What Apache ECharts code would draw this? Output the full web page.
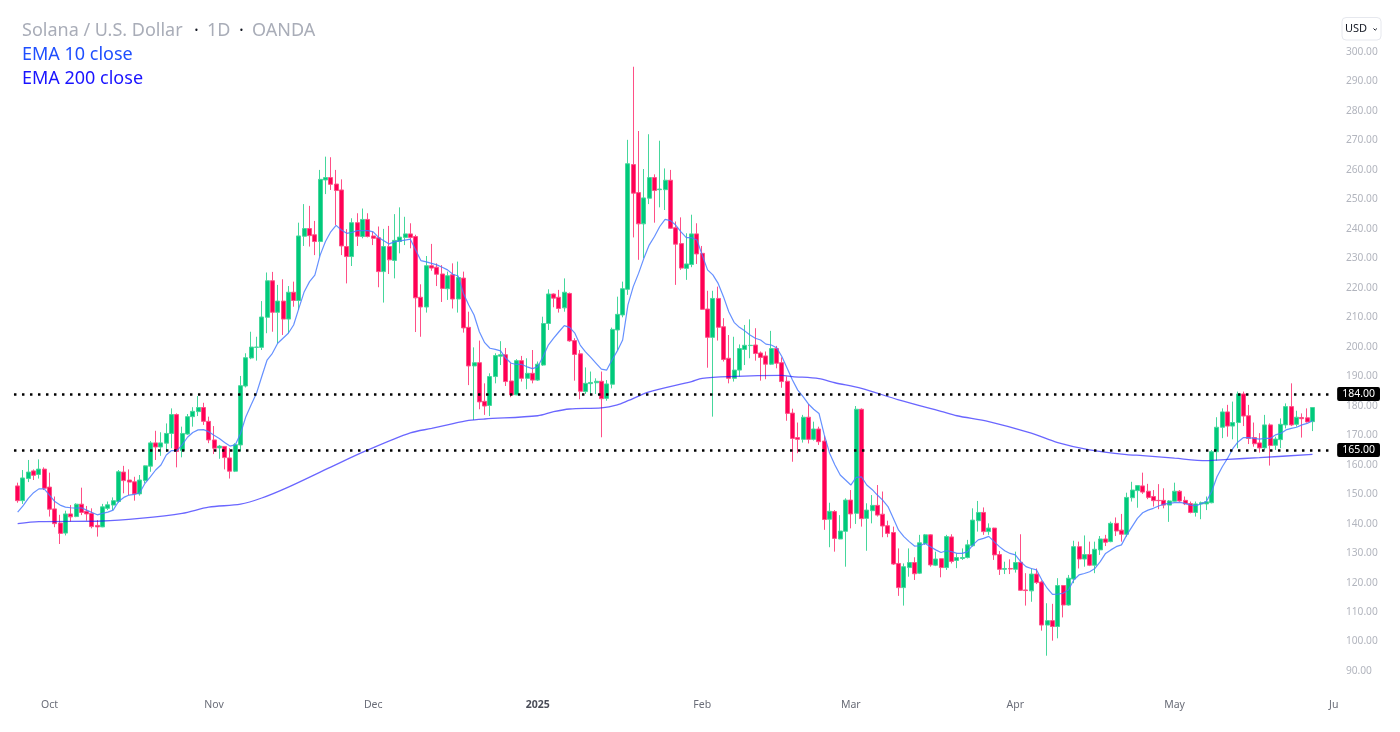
<!DOCTYPE html>
<html>
<head>
<meta charset="utf-8">
<title>SOLUSD</title>
<style>
  html, body { margin: 0; padding: 0; background: #fff; }
  #main { width: 1400px; height: 732px; }
</style>
</head>
<body>
<div id="main"></div>
<script src="https://cdn.jsdelivr.net/npm/echarts@6/dist/echarts.min.js"></script>
<script>
// daily candles, 25 Sep 2024 .. 27 May 2025
var opens = [
  152.8,147.8,155.3,157.9,156.7,158.5,152.4,145,140.2,136.8,
  143.3,142.4,146.6,144.2,143.5,139.4,138.9,145.2,146.3,147.5,
  157.5,154.8,154.2,150.1,154.6,159.5,167.4,166,167.3,170.6,
  177,164.8,170.4,176.3,178,179.4,174.7,168.4,165.7,166.2,
  162.3,157.8,166.7,186.7,196.2,199.8,199.8,210,222.4,211.7,
  215.5,209.4,218.5,215.7,237.5,240.1,238,235.7,256.6,257.4,
  255.2,253.2,234,230.6,242.1,237.4,243.2,237.6,237,225.5,
  234,229.3,235.7,237.1,238.3,237.4,216.8,213.5,227.5,227,
  224.7,219.7,224.4,216.2,223.3,206.6,193.5,194.6,181.5,180.1,
  189.9,196.8,197.3,188.4,183.7,195.3,189.3,191,188.7,193.8,
  207.9,217.9,216.8,213.2,218.1,202.1,197.6,184.8,187.5,187.8,
  188.3,182.5,187.3,205.7,210.8,219.5,261.8,252.3,241.7,250.4,
  257.4,253.3,253.3,256.5,240.4,235,226.6,227.9,238.3,231.7,
  212.8,203.2,216.4,206.8,196.1,189.3,192.1,199.1,200.4,200.6,
  197.9,196.9,194.1,199.4,194.6,188.3,177.5,169.2,168.6,176.1,
  168.6,172.1,168,141.5,144.1,134.8,137.4,148,143.5,178.8,
  141.8,144.4,146.2,143.2,139.3,137,126.5,118.3,125.1,126.8,
  123.2,133.3,136.2,125.9,128.1,125.1,135.5,127.5,128.2,128.5,
  132.5,141,143.8,137.3,138.5,129.5,124.5,124.8,124.5,126.9,
  117.5,117.2,122.9,120.2,105.6,107.1,105.1,119,112.4,121.2,
  132.2,128,129.5,125.9,131.1,134.8,133.9,140.1,137.8,136.4,
  148.8,151.2,152.8,151,149.2,147.9,147.9,146.3,147.6,151,
  147.9,146.8,143.8,146.7,146.7,147.1,164.4,172.7,177.9,173.1,
  174.3,184,176.6,169.2,167.4,165.7,173.5,166.6,168.5,173.5,
  179.7,173.7,176,175.9,174.6
];
var closes = [
  147.8,155.5,157.5,156.4,158.5,152,144.9,140,136.7,143.3,
  142.3,146.6,143.8,143.3,139,138.9,145.7,146.4,147.8,157.6,
  154.6,154.1,150.1,154.8,159.6,167.4,166,167.4,170.6,177,
  164.5,170.6,176.3,178.1,179.4,174.7,168.4,165.6,166.3,162.4,
  157.8,166.8,186.8,196.3,199.9,199.9,210.1,222.4,211.7,215.5,
  209.4,218.5,215.7,237.6,240.1,237.7,235.7,256.8,257.4,255.1,
  253,234.2,230.6,242.1,237.5,243.2,237.4,236.8,225.5,234,
  229.5,236.1,237.2,238.3,237.1,216.6,213.5,227.5,226.7,224.6,
  219.8,224.1,216.2,223.5,206.4,193.5,194.6,181.3,179.9,189.9,
  197,197.3,188.2,183.7,195.3,189.3,191,188.7,194.1,207.9,
  217.9,216.5,213,218.5,202,197.4,184.9,187.6,187.9,188.3,
  182.4,187.4,205.9,211,219.7,262.1,252.1,241.7,250.5,257.4,
  253,253.5,256.5,240.2,234.8,226.7,228.1,238.3,231.5,212.7,
  203.2,216.4,206.6,195.7,189.3,192.1,199.4,200.5,200.5,197.7,
  196.4,194.1,199.4,194.4,188.2,177.4,168.9,168.6,176.1,168.6,
  172.1,167.8,141.4,144.2,135,137.5,148,143.3,178.8,141.7,
  144.6,146.2,142.9,139.2,136.7,126.3,118.3,125.4,126.8,123,
  133.5,136.2,126,128,125.1,135.6,127.2,128.5,128.5,132.8,
  141.2,143.8,137.3,138.5,129.4,124.5,124.8,124.6,126.8,117.4,
  117.3,122.9,120,105.6,107.1,105.1,119,112.4,121.5,132.2,
  128,129.5,125.9,131.3,134.8,133.7,140.1,137.5,136.4,148.9,
  151.4,152.9,150.7,148.9,147.8,147.8,146.3,147.7,151,147.7,
  146.7,143.8,146.7,147.1,147.4,164.4,172.7,177.9,173.1,174.3,
  184,176.5,168.9,167.1,165.7,173.5,166.5,168.7,173.7,179.7,
  173.5,176.1,175.6,174.5,179.4
];
var lows = [
  147.1,146.7,154.1,154.8,155.3,151.4,142.4,138.8,133.1,136,
  140.7,142.2,142.9,141,138.4,135.6,138.8,144.6,144.6,147.1,
  150.3,149.7,147.8,149.5,153.7,157.6,161.6,163,164.4,165.6,
  159.1,162.5,170.1,172.9,176.5,173.5,167.3,163.6,162,158.4,
  155.3,157.5,164.5,186.2,195.8,195.3,198.9,204.6,205.1,201.2,
  204,204.6,213.6,212.5,234.2,234,231.1,230.6,251.8,253.2,
  241.3,231.1,221.5,227.4,234.2,236.8,237.1,234.5,220.2,215,
  224.7,223.2,231.7,234.5,233.4,205,203.4,211.6,225.8,220.6,
  215.2,215.9,213,211.6,204.8,187,175.2,178.8,176.9,176.5,
  187.6,193.8,186.7,182.9,183.6,188.2,185.6,187.6,188.4,193.5,
  205.7,213.4,211.6,211.9,201.7,188.5,182.2,184,184,184,
  169.3,181.7,185.9,198.9,210,217.6,237.1,229.5,230,248.4,
  242.1,247.3,246.4,240,221,226.1,222.7,227,228.1,212.5,
  192.9,176.3,202.1,195,187.6,188.2,189.9,193.8,196.1,195.3,
  188.5,189,193.8,192.7,186.1,174.9,161,163.9,167.5,167.2,
  168.2,166.7,137.9,132,130.5,134.7,125.4,138.4,139.9,139,
  130.8,140.1,142.4,135.4,135.4,126,115.5,112.2,122,120.9,
  122.9,132.8,125.4,125.6,121.8,124.3,126.5,124.9,127.7,128.2,
  132.2,137.3,136.2,136.2,127.7,122.6,122.9,122.9,123.4,117.2,
  112.2,113.5,119.5,103.7,95.2,100.3,101.1,108.2,112.2,119.8,
  124.8,125.4,125.6,123.2,129.4,132.4,133.7,135.8,133.9,135.6,
  147.5,145.4,150.1,148.3,145.8,144.9,145.2,140.6,147.5,147.4,
  146.3,143.5,142.4,141.5,144.6,146.9,161.4,169,169.5,168.6,
  165.6,173.1,167,166.1,164.1,165,159.7,165,165.6,172.3,
  173.1,172.9,169.2,174.3,171.4
];
var highs = [
  153.9,158.2,161.6,158.4,161.8,159.1,157.3,149.2,143,144.4,
  146.3,146.9,152.2,146,145.2,141.2,146.7,147.5,148.9,158.2,
  159.6,158.4,155.9,156.5,159.7,168,171.5,171,174,179.1,
  177.4,172.9,177.2,179.5,183.3,181,176.3,173.1,166.7,166.3,
  165.6,167.3,190.1,197.8,205.1,203.4,215.5,225.2,225.4,221,
  222.9,220.6,222.1,242.1,248.4,247.8,242.7,260,264.5,264.3,
  260,256.8,239.9,243.6,245.3,246.9,245.3,239.1,240.8,240,
  241,245,247.3,244.1,241.9,238,221.2,230.8,234.9,228.3,
  227.7,225.5,228.3,228.9,225.5,211.9,199.8,202.1,187.6,191,
  197.8,201.9,199.6,194.4,195.8,196.9,196.1,198.9,195,210.2,
  219.5,218.1,219.3,223.2,218.4,202.9,198.9,193,191.6,189.3,
  191.6,188.7,206.5,217,222.1,270.2,295,273.2,260.3,272.1,
  258.5,269.9,260.5,260,242.5,243.9,238.5,244.8,241.9,234.2,
  219,219,220.4,209.7,204,203.4,200.8,207.4,209.3,206.3,
  198.4,198.4,205.4,200.3,196.4,189.9,179,174.3,176.9,180.6,
  174.6,172.9,169.7,147.1,144.6,142.9,148.6,151.4,179.9,179.1,
  146.9,149.7,153.1,150.9,141,139,131.6,126.5,131.6,128.6,
  136.2,136.5,136.4,130.5,128.1,136.2,136.4,129.9,131.6,134.5,
  145.2,147.7,145.5,140.1,138.6,130.7,127.1,127.9,130.5,136.4,
  123.2,124.8,124.8,120.7,113,112.8,121.5,119.2,122.6,134.2,
  133.9,136,133.9,133.9,135.8,136.2,140.7,142.1,143.3,150.5,
  154.2,152.9,157.3,153.5,151.4,153.4,152,148,153.9,151.4,
  149.2,147.5,147.5,147.5,149.2,165,176.1,179.1,180.3,181.4,
  184.8,184.8,180.3,174.3,170.7,176.9,174,169.5,175.7,180.8,
  187.6,178.3,177.4,179.1,179.5
];
var ema10 = [
  143.9,146,148.6,150.5,151.8,151.8,149.7,147.5,146.3,145.6,
  145.4,145.3,145.4,144.6,143.8,143,143.5,143.9,144.6,147.5,
  148.9,149.7,149.9,150.5,153.7,155.9,158.2,159.9,163.3,164.8,
  164.8,166.7,169.3,170.9,171.8,171.9,171.2,170,168.9,167.5,
  166.3,166.7,170.6,176.3,180.3,184.2,189.9,195.5,197.8,201.2,
  202.9,204.6,207.4,213.1,218.7,222.1,224.3,231.1,235.7,239,
  241.2,239.6,238.5,238.8,239.4,239.4,239.4,239,237.1,236,
  234.9,235.6,235.9,236.2,236.5,232.8,229.2,228.8,228.3,227.8,
  227,226.1,224.6,224,218.1,214.2,210.8,205.1,201.4,199.5,
  199.1,198.6,196.1,194.4,194,194,193.2,192.6,193.2,196.6,
  200.6,202.9,205.1,207.2,206.6,204.6,200.6,198.3,196.4,194.4,
  192.4,192.1,195.5,198.6,202.3,214.2,220.4,224.9,230,234.5,
  237.4,240.8,243.2,242.8,241.3,239,237,237,236.2,231.1,
  226.1,224.4,221.5,217,211.9,208.3,206.6,205.4,204,202.9,
  202.3,200.9,200.6,199.7,196.7,192.7,188.7,185.3,183.1,180.6,
  178.8,177.4,170.1,163.9,159.9,156.5,154.8,153.1,155.7,155.9,
  153.1,151.6,149.7,148,145.8,141.8,137.8,135.6,133.9,132.4,
  132.5,133.3,132.2,131.1,130.2,130.8,130.5,129.9,129.9,130.5,
  132.8,134.5,135,135.7,133.9,132.2,130.8,129.9,129.4,127.1,
  125.4,124.8,124.3,120.9,118.1,116,116.1,116.4,117.5,120.9,
  122.6,123.1,123.7,124.8,127.1,129.9,131.1,132.2,132.8,136.2,
  139,141.8,143.7,144.6,145.2,146,146.6,146.9,147.1,147.2,
  146.9,146.3,146.1,146.7,147.5,150.9,155.9,159.3,162.2,165.5,
  167.8,169.2,169.2,168.9,168.7,168.9,168.9,170.1,170.6,171.8,
  172.3,172.7,173.5,174,174.9
];
// the slow average was read at the candles where its slope changes
var ema200Candles = [0,4,16,23,31,36,42,46,51,59,66,74,78,81,85,88,98,101,104,110,113,115,119,127,129,134,144,146,151,154,159,166,174,177,183,191,196,202,209,212,218,224,228,234,244];
var ema200Values = [140,140.7,140.9,141.8,143.5,145.6,146.6,148.7,152.4,159.2,165,170.8,172.3,173.5,175,175.5,176.6,178,178.9,179.3,180.3,181.7,184.7,188.2,189.3,189.9,190.3,189.9,189.2,187.8,185.9,182,178.1,176.6,174.6,170.7,167.5,165,163.4,163.1,162.2,161.4,161.8,162.4,163.5];
var levels = [184, 165];
var xTickDays = [8, 39, 69, 100, 131, 159, 190, 220, 250];
var xTickLabels = ['Oct', 'Nov', 'Dec', '2025', 'Feb', 'Mar', 'Apr', 'May', 'Ju'];

var firstDay = new Date(Date.UTC(2024, 8, 23));
var dayCount = 251;
var firstCandle = 2;   // two empty days in front of the first candle

var days = [];
for (var i = 0; i < dayCount; i++) {
  days.push(new Date(firstDay.getTime() + i * 86400000).toISOString().slice(0, 10));
}

var candleData = [];
var ema10Data = [];
for (var i = 0; i < opens.length; i++) {
  candleData.push([i + firstCandle, opens[i], closes[i], lows[i], highs[i]]);
  ema10Data.push([i + firstCandle, ema10[i]]);
}
var ema200Data = ema200Candles.map(function (c, i) {
  return [c + firstCandle, ema200Values[i]];
});

var textFont = '"Noto Sans", sans-serif';

function legendText(text, left, top, color) {
  return {
    text: text,
    left: left,
    top: top,
    textStyle: { color: color, fontFamily: textFont, fontSize: 18, fontWeight: 'normal' }
  };
}

var chart = echarts.init(document.getElementById('main'), null, { renderer: 'canvas' });
chart.setOption({
  animation: false,
  backgroundColor: '#ffffff',
  title: [
    legendText('Solana / U.S. Dollar', 17, 17, '#a9adb8'),
    legendText('\u00b7', 189, 17, '#131722'),
    legendText('1D', 202, 17, '#a9adb8'),
    legendText('\u00b7', 234, 17, '#131722'),
    legendText('OANDA', 247, 17, '#a9adb8'),
    legendText('EMA 10 close', 17, 41, '#1f4fff'),
    legendText('EMA 200 close', 17, 65, '#1a14ff')
  ],
  grid: { left: 4.4, right: 63.6, top: 22.52, height: 678, containLabel: false },
  xAxis: {
    type: 'category',
    data: days,
    boundaryGap: true,
    axisLine: { show: false },
    axisTick: { show: false },
    splitLine: { show: false },
    axisLabel: {
      interval: function (index) { return xTickDays.indexOf(index) >= 0; },
      margin: -1,
      hideOverlap: false,
      formatter: function (value, index) {
        var label = xTickLabels[xTickDays.indexOf(index)];
        return label === '2025' ? '{year|' + label + '}' : label;
      },
      color: '#6a6d78',
      fontFamily: textFont,
      fontSize: 10.5,
      rich: { year: { fontFamily: textFont, fontSize: 10.5, fontWeight: 'bold', color: '#4a4d58' } }
    }
  },
  yAxis: {
    type: 'value',
    position: 'right',
    min: 80,
    max: 310,
    interval: 10,
    axisLine: { show: false },
    axisTick: { show: false },
    splitLine: { show: false },
    axisLabel: {
      showMinLabel: false,
      showMaxLabel: false,
      margin: 9.5,
      color: '#b2b5be',
      fontFamily: textFont,
      fontSize: 10.2,
      formatter: function (v) { return v.toFixed(2); }
    }
  },
  series: [
    {
      type: 'candlestick',
      data: candleData,
      encode: { x: 0, y: [1, 2, 3, 4] },
      barWidth: 4.5,
      itemStyle: {
        color: '#00c97b',
        color0: '#ff0055',
        borderColor: '#45d79c',
        borderColor0: '#ff4f86',
        borderWidth: 1
      },
      markLine: {
        silent: true,
        symbol: 'none',
        z: 6,
        lineStyle: { color: '#000000', width: 2.5, type: [2.5, 5.5], dashOffset: 6.4 },
        label: {
          show: true,
          position: 'end',
          distance: 3.4,
          color: '#ffffff',
          backgroundColor: '#000000',
          borderRadius: 2,
          padding: [2, 5, 1, 5],
          fontFamily: textFont,
          fontSize: 10.5,
          formatter: function (p) { return Number(p.value).toFixed(2); }
        },
        data: levels.map(function (level) {
          return [{ coord: [1, level], value: level }, { coord: [250, level], value: level }];
        })
      }
    },
    {
      type: 'line',
      name: 'EMA 10 close',
      data: ema10Data,
      showSymbol: false,
      smooth: false,
      z: 4,
      lineStyle: { color: '#4a7dff', width: 1.2, opacity: 0.85 }
    },
    {
      type: 'line',
      name: 'EMA 200 close',
      data: ema200Data,
      showSymbol: false,
      smooth: 0.3,
      z: 4,
      lineStyle: { color: '#1a14ff', width: 1.3, opacity: 0.65 }
    }
  ],
  graphic: [
    {
      type: 'rect',
      shape: { x: 1342, y: 17.5, width: 39, height: 22.5, r: 4 },
      style: { fill: '#ffffff', stroke: '#e6e8ee', lineWidth: 1 }
    },
    {
      type: 'text',
      x: 1345,
      y: 23,
      style: { text: 'USD', fill: '#131722', fontFamily: textFont, fontSize: 11 }
    },
    {
      type: 'polyline',
      shape: { points: [[1373.5, 28.5], [1375.2, 30.2], [1376.9, 28.5]] },
      style: { fill: 'none', stroke: '#131722', lineWidth: 1 }
    }
  ]
});
</script>
</body>
</html>
